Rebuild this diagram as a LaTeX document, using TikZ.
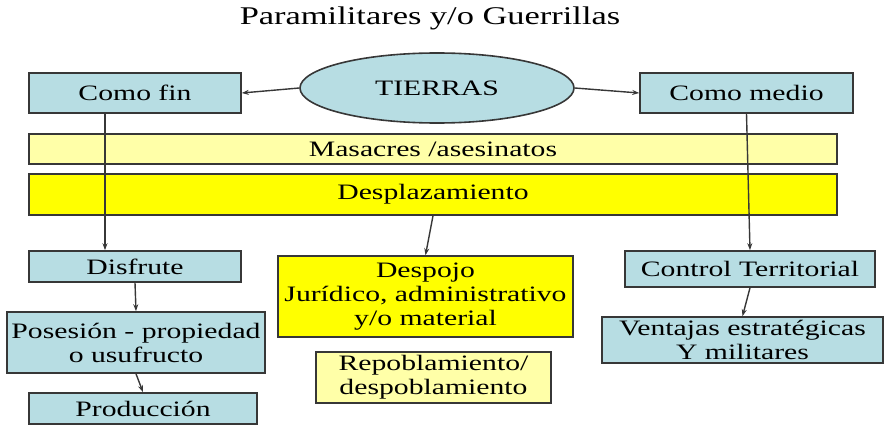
\documentclass[tikz,border=0pt]{standalone}
\usepackage{fontspec}
\setmainfont{Liberation Serif}[FakeStretch=1.35]
\usepackage{tikz}
\usetikzlibrary{shapes}
\usetikzlibrary{shapes.geometric}
\usetikzlibrary{arrows.meta}

\definecolor{celeste}{RGB}{183,221,227}
\definecolor{amarclaro}{RGB}{255,255,168}
\definecolor{amarillo}{RGB}{255,255,0}
\definecolor{borde}{RGB}{55,55,55}

\tikzset{
  caja/.style={draw=borde, line width=1.6pt, rectangle, inner sep=1pt, align=center,
    font=\fontsize{22}{24}\selectfont},
  azul/.style={caja, fill=celeste},
  pale/.style={caja, fill=amarclaro},
  fuerte/.style={caja, fill=amarillo},
  flecha/.style={draw=borde, line width=1.4pt, -{Stealth[length=7pt,width=5pt]}}
}

\begin{document}
\begin{tikzpicture}[x=1pt, y=-1pt]
      \useasboundingbox (0,0) rectangle (887,428);
      \node[font=\fontsize{25.5}{27}\selectfont] (titulo) at (430,18) {Paramilitares y/o Guerrillas};
      \node[ellipse, draw=borde, line width=1.6pt, fill=celeste, minimum width=274, minimum height=70,
        inner sep=0pt, font=\fontsize{22}{24}\selectfont] (tierras) at (437,88) {TIERRAS};
      \node[azul, minimum width=212, minimum height=40] (comofin) at (135,93) {Como fin};
      \node[azul, minimum width=213, minimum height=40] (comomedio) at (746.5,93) {Como medio};
      \node[pale, minimum width=808, minimum height=30] (masacres) at (433,149) {Masacres /asesinatos};
      \node[fuerte, minimum width=808, minimum height=41] (desplaz) at (433,194.5) {Desplazamiento};
      \node[azul, minimum width=212, minimum height=31] (disfrute) at (135,266.5) {Disfrute};
      \node[azul, minimum width=258, minimum height=61] (posesion) at (136,342.5) {Posesión - propiedad\\o usufructo};
      \node[azul, minimum width=228, minimum height=31] (produccion) at (143,408.5) {Producción};
      \node[fuerte, minimum width=295, minimum height=81] (despojo) at (425.5,296.5) {Despojo\\Jurídico, administrativo\\y/o material};
      \node[pale, minimum width=235, minimum height=51] (repobl) at (433.5,377.5) {Repoblamiento/\\despoblamiento};
      \node[azul, minimum width=250, minimum height=36] (control) at (750,269) {Control Territorial};
      \node[azul, minimum width=281, minimum height=46] (ventajas) at (742.5,340) {Ventajas estratégicas\\Y militares};
      \draw[flecha] (tierras.west) -- (comofin.east);
      \draw[flecha] (tierras.east) -- (comomedio.west);
      \draw[flecha] ([xshift=-30]comofin.south) -- ([xshift=-30]disfrute.north);
      \draw[flecha] (comomedio.south) -- (control.north);
      \draw[flecha] (desplaz.south) -- (despojo.north);
      \draw[flecha] (disfrute.south) -- (posesion.north);
      \draw[flecha] (posesion.south) -- (produccion.north);
      \draw[flecha] (control.south) -- (ventajas.north);
    \end{tikzpicture}
\end{document}
